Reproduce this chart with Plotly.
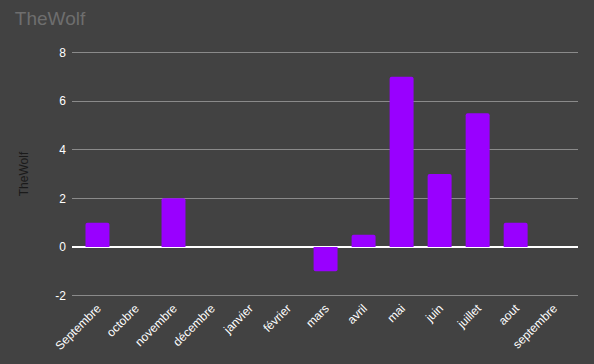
import plotly.graph_objects as go

months = ["Septembre", "octobre", "novembre", "décembre", "janvier", "février",
          "mars", "avril", "mai", "juin", "juillet", "aout", "septembre"]
values = [1, 0, 2, 0, 0, 0, -1, 0.5, 7, 3, 5.5, 1, 0]
y_ticks = [-2, 0, 2, 4, 6, 8]
y_tick_labels = ["-2", "0", "2", "4", "6", "8"]
series_name = "TheWolf"

fig = go.Figure(go.Bar(
    x=months, y=values, name=series_name,
    marker=dict(color="#9900ff", line=dict(width=0), cornerradius=2),
    width=0.63,
))

fig.update_layout(
    width=594, height=364,
    paper_bgcolor="#424242", plot_bgcolor="#424242",
    margin=dict(l=72, r=16, t=50, b=66),
    font=dict(family="Arial, Liberation Sans, sans-serif", size=12, color="#ffffff"),
    title=dict(text="TheWolf", x=0.025, xanchor="left", y=0.95, yanchor="middle",
               font=dict(size=19, color="#6e6e6e")),
    showlegend=False,
    bargap=0.37,
)
fig.update_xaxes(
    range=[-0.67, 12.64], tickangle=-45, showgrid=False, showline=False,
    ticks="", tickfont=dict(size=12, color="#ffffff"),
)
fig.update_yaxes(
    range=[-2.1, 8.1], tickvals=y_ticks, ticktext=y_tick_labels, showgrid=True,
    gridcolor="#8a8a8a", gridwidth=1,
    zeroline=True, zerolinecolor="#ffffff", zerolinewidth=2,
    tickfont=dict(size=12, color="#ffffff"), ticks="", ticklabelstandoff=5,
    title=dict(text="TheWolf", font=dict(size=12, color="#1a1a1a"), standoff=24),
)

fig.write_html("out.html", config={"displayModeBar": False},
               post_script="document.body.style.margin='0';document.body.style.background='#424242';")
